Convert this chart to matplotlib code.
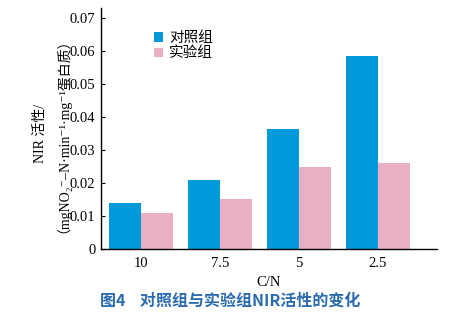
import matplotlib
matplotlib.use("Agg")
from matplotlib import pyplot as plt
import numpy as np

# data
ratios = ["10", "7.5", "5", "2.5"]
control = [0.0139, 0.0210, 0.0364, 0.0585]
experiment = [0.0109, 0.0151, 0.0248, 0.0260]
series_names = ["对照组", "实验组"]

BLUE = "#0099DA"
PINK = "#E8AFC5"
SERIF = ["Liberation Serif", "DejaVu Serif", "Noto Sans CJK SC"]


def main():
    fig = plt.figure(figsize=(4.74, 3.21), dpi=100)
    ax = fig.add_axes([101 / 474, 1 - 249 / 321, 336 / 474, 241 / 321])

    x = np.arange(len(ratios))
    w = 0.405
    ax.bar(x - w / 2, control, w, color=BLUE, label=series_names[0])
    ax.bar(x + w / 2, experiment, w, color=PINK, label=series_names[1])

    ax.set_xlim(-0.506, 3.75)
    ax.set_ylim(0, 0.073)
    ax.set_yticks(np.arange(0, 0.071, 0.01))
    ax.set_yticklabels(["0"] + ["%.2f" % v for v in np.arange(0.01, 0.071, 0.01)],
                       family="Liberation Serif", fontsize=10.5)
    ax.set_xticks(x)
    ax.set_xticklabels(ratios, family="Liberation Serif", fontsize=10.5)
    ax.tick_params(axis="y", direction="in", length=3, width=0.8, pad=4)
    ax.tick_params(axis="x", length=0, pad=6)
    for side in ("top", "right"):
        ax.spines[side].set_visible(False)
    for side in ("left", "bottom"):
        ax.spines[side].set_linewidth(1.0)

    ax.set_xlabel("C/N", family="Liberation Serif", fontsize=10.5, labelpad=4)

    fig.text(40 / 474, 1 - 133 / 321, "NIR 活性/", rotation=90,
             ha="center", va="center", family=SERIF, fontsize=10)
    fig.text(56 / 474, 1 - 129 / 321,
             "（mgNO₂⁻–N·min⁻¹·mg⁻¹蛋白质）",
             rotation=90, ha="center", va="center", family=SERIF, fontsize=10)

    fig.legend(loc="upper left", bbox_to_anchor=(147 / 474, 1 - 24 / 321),
               frameon=False, handlelength=0.6, handleheight=0.6,
               handletextpad=0.4, labelspacing=0.1, borderpad=0,
               prop={"family": SERIF, "size": 10.5})

    fig.text(230 / 474, 1 - 301 / 321, "图4    对照组与实验组NIR活性的变化",
             ha="center", va="center", color="#2A6BB0", fontsize=11.5,
             fontweight="bold", family=["Noto Sans CJK SC", "DejaVu Sans"])

    fig.savefig("out.png", dpi=100)


if __name__ == "__main__":
    main()
